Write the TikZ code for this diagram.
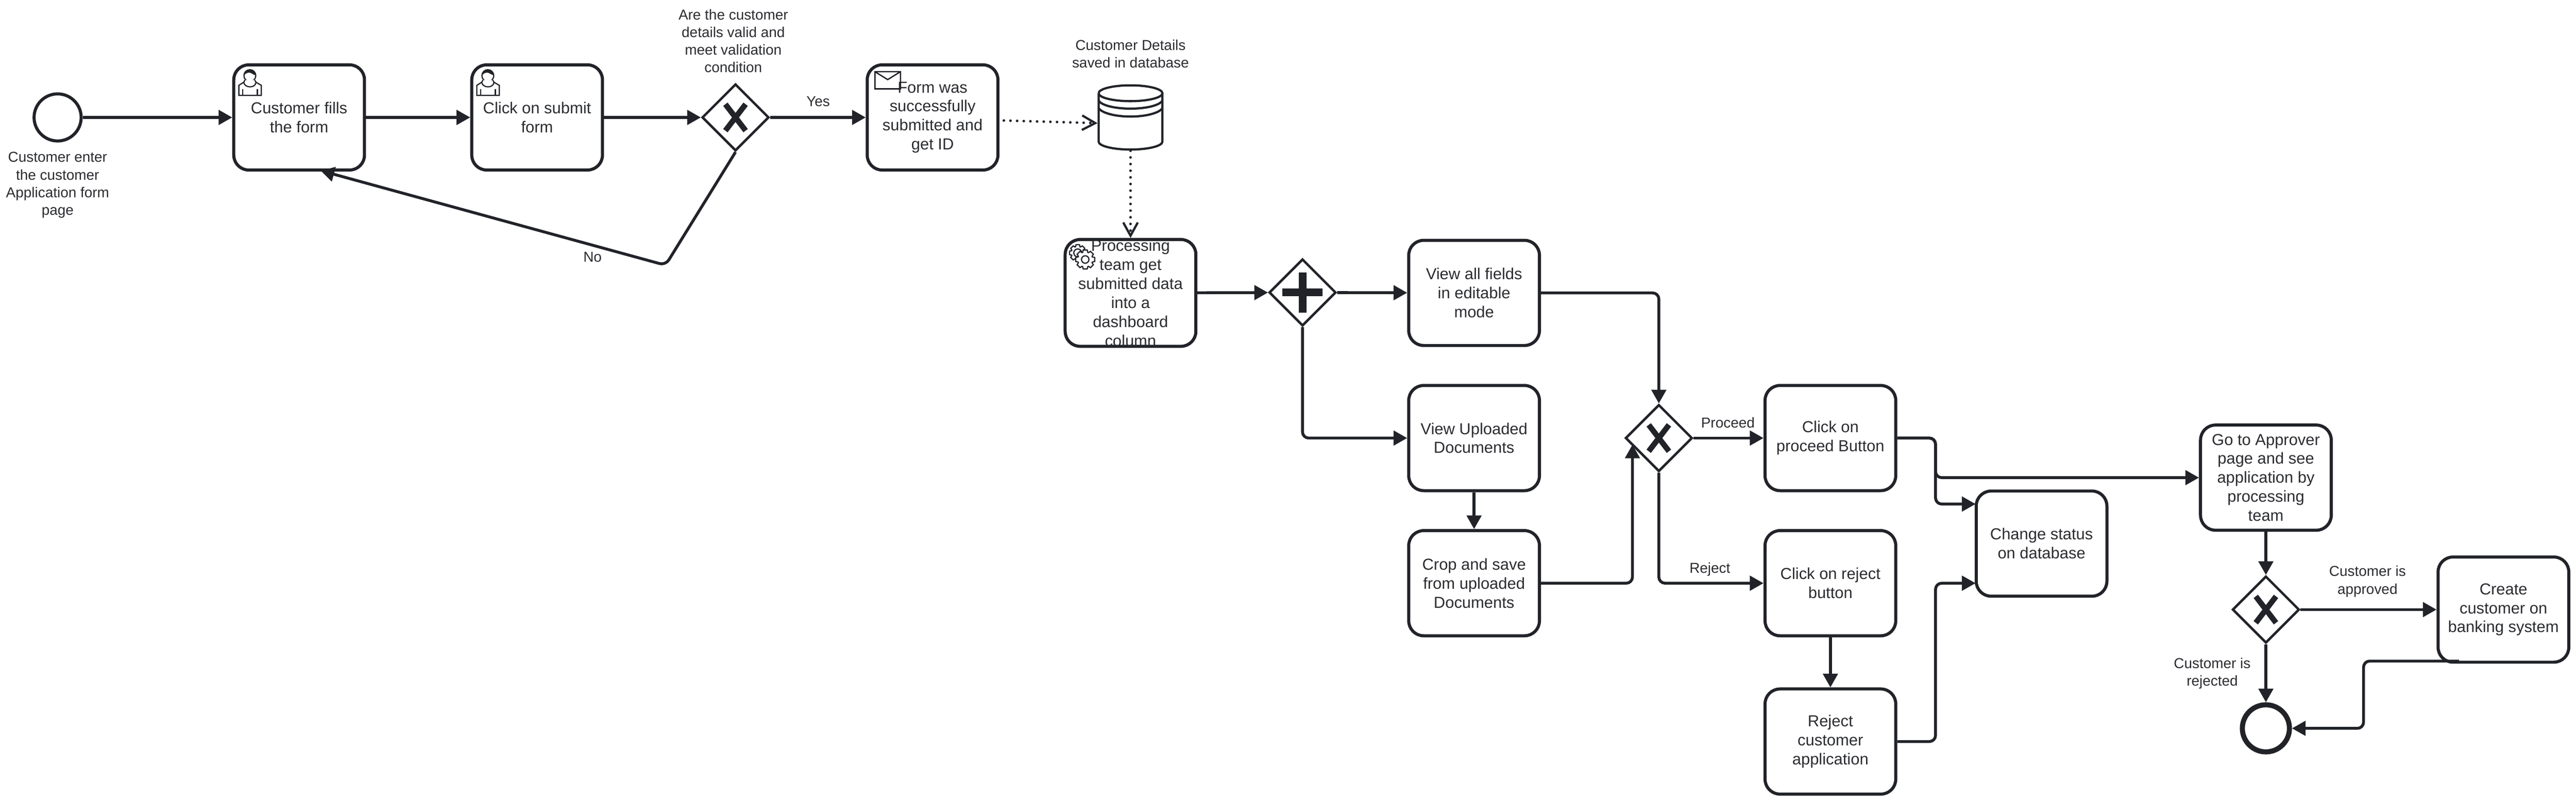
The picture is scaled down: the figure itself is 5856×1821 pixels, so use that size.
\documentclass[tikz,border=0pt]{standalone}
\usepackage{fontspec}
\setmainfont{Liberation Sans}
\usetikzlibrary{arrows.meta,shapes.geometric,calc}

\definecolor{bpmnline}{HTML}{212329}
\definecolor{bpmntext}{HTML}{2B2C30}

\tikzset{
	task/.style={draw=bpmnline,line width=0.07cm,rounded corners=0.34cm,minimum width=2.97cm,minimum height=2.39cm,inner sep=0pt,align=center,text=bpmntext,font=\fontsize{10.3}{12.3}\selectfont},
	gateway/.style={draw=bpmnline,line width=0.055cm,diamond,aspect=1,minimum width=1.52cm,minimum height=1.52cm,inner sep=0pt},
	lbl/.style={align=center,inner sep=0pt,text=bpmntext,font=\fontsize{9.3}{11.4}\selectfont},
	flow/.style={draw=bpmnline,line width=0.065cm,rounded corners=0.14cm,-{Triangle[length=0.31cm,width=0.33cm]}},
	assoc/.style={draw=bpmnline,line width=0.06cm,line cap=round,dash pattern=on 0pt off 4.3pt,-{Straight Barb[length=0.3cm,width=0.33cm,line width=0.05cm]}},
	iconline/.style={draw=bpmnline,line width=0.027cm},
}

\newcommand{\crossmark}[2]{
	\draw[bpmnline,line width=0.125cm] (#1-23,#2-30) -- (#1+23,#2+30) (#1+23,#2-30) -- (#1-23,#2+30);
}
\newcommand{\usericon}[2]{
	\begin{scope}[shift={(#1,#2)}]
		\draw[iconline] (0,0) circle[radius=13.5];
		\fill[bpmnline] (-13.5,-1) .. controls (-8,-6) and (-5,-7) .. (-2,-7) .. controls (4,-7) and (8,-1) .. (13.5,-1) arc[start angle=0,end angle=-180,radius=13.5] -- cycle;
		\draw[iconline,fill=white] (-11,10) -- (-14,15) -- (-25,22) -- (-25,45) -- (26,45) -- (26,22) -- (14,15) -- (11,10);
		\draw[iconline] (-14,15) .. controls (-12,29) and (13,29) .. (14,15);
		\draw[iconline] (-16,31) -- (-16,45) (17,31) -- (17,45);
	\end{scope}
}
\newcommand{\gearicon}[4]{
	\begin{scope}[shift={(#1,#2)}]
		\draw[iconline,fill=white] (-20:#3*.78) \foreach \a in {0,45,...,315} { -- (\a-20:#3*.78) -- (\a-12:#3) -- (\a+12:#3) -- (\a+20:#3*.78)} -- cycle;
		\draw[iconline] (0,0) circle[radius=#4];
	\end{scope}
}

\begin{document}
\begin{tikzpicture}[x=0.01cm,y=-0.01cm]
		\useasboundingbox (0,0) rectangle (5856,1821);

		% Draw events.
		\node[draw=bpmnline,line width=0.07cm,circle,minimum size=1.07cm,inner sep=0pt] (startev) at (131,267) {};
		\node[draw=bpmnline,line width=0.115cm,circle,minimum size=1.07cm,inner sep=0pt] (endev) at (5151,1656) {};

		% Draw tasks.
		\node[task] (fill) at (680,267) {Customer fills\\the form};
		\node[task] (submit) at (1221,267) {Click on submit\\form};
		\node[task] (form) at (2120,267) {Form was\\successfully\\submitted and\\get ID};
		\node[task] (processing) at (2570,666) {Processing\\team get\\submitted data\\into a\\dashboard\\column};
		\node[task] (viewall) at (3351,666) {View all fields\\in editable\\mode};
		\node[task] (viewdocs) at (3351,996) {View Uploaded\\Documents};
		\node[task] (crop) at (3351,1326) {Crop and save\\from uploaded\\Documents};
		\node[task] (proceed) at (4161,996) {Click on\\proceed Button};
		\node[task] (reject) at (4161,1326) {Click on reject\\button};
		\node[task] (rejectapp) at (4161,1686) {Reject\\customer\\application};
		\node[task] (change) at (4641,1236) {Change status\\on database};
		\node[task] (approver) at (5151,1086) {Go to Approver\\page and see\\application by\\processing\\team};
		\node[task] (create) at (5691,1386) {Create\\customer on\\banking system};

		% Draw gateways.
		\node[gateway] (gwvalid) at (1672,267) {};
		\node[gateway] (gwsplit) at (2961,665) {};
		\node[gateway] (gwproceed) at (3771,996) {};
		\node[gateway] (gwapprove) at (5151,1386) {};
		\crossmark{1672}{267}
		\crossmark{3771}{996}
		\crossmark{5151}{1386}
		\draw[bpmnline,line width=0.18cm] (2961,619) -- (2961,711) (2915,665) -- (3007,665);

		% Draw database.
		\node[minimum width=1.5cm,minimum height=1.5cm,inner sep=0pt] (db) at (2570,267) {};
		\draw[bpmnline,line width=0.05cm] (2497.5,212) arc[start angle=180,end angle=540,x radius=72.5,y radius=18];
		\draw[bpmnline,line width=0.05cm] (2497.5,212) -- (2497.5,322) .. controls (2497.5,332) and (2530,340) .. (2570,340) .. controls (2610,340) and (2642.5,332) .. (2642.5,322) -- (2642.5,212);
		\draw[bpmnline,line width=0.05cm] (2497.5,229) .. controls (2505,240) and (2535,247) .. (2570,247) .. controls (2605,247) and (2635,240) .. (2642.5,229);
		\draw[bpmnline,line width=0.05cm] (2497.5,246) .. controls (2505,257) and (2535,265) .. (2570,265) .. controls (2605,265) and (2635,257) .. (2642.5,246);

		% Draw icons.
		\usericon{568}{172}
		\usericon{1109}{172}
		\draw[iconline,line width=0.03cm] (1989,163) rectangle (2047,202) (1989,163) -- (2018,181) -- (2047,163);
		\gearicon{2450}{575}{19}{9}
		\gearicon{2467}{590}{22}{8.5}

		% Draw connectors.
		\coordinate (nobend) at (1513,603);
		\coordinate (fillin) at (729,388);
		\coordinate (formout) at (2282,274);
		\coordinate (dbin) at (2495,280);
		\coordinate (gwin) at (3711,1011);
		\coordinate (bus) at (4400,1086);
		\coordinate (busreject) at (4400,1326);
		\coordinate (changetop) at (4491,1146);
		\coordinate (changelow) at (4491,1326);
		\coordinate (createout) at (5590,1503);
		\coordinate (endbend) at (5373,1656);
		\draw[flow] (startev) -- (fill);
		\draw[flow] (fill) -- (submit);
		\draw[flow] (submit) -- (gwvalid);
		\draw[flow] (gwvalid) -- (form);
		\draw[flow] (gwvalid.south) -- (nobend) -- (fillin);
		\draw[assoc] (formout) -- (dbin);
		\draw[assoc] (db.south) -- (processing.north);
		\draw[flow] (processing) -- (gwsplit);
		\draw[flow] (gwsplit) -- (viewall);
		\draw[flow] (gwsplit.south) |- (viewdocs.west);
		\draw[flow] (viewdocs) -- (crop);
		\draw[flow] (viewall.east) -| (gwproceed.north);
		\draw[flow] (crop.east) -| (gwin);
		\draw[flow] (gwproceed) -- (proceed);
		\draw[flow] (gwproceed.south) |- (reject.west);
		\draw[flow] (reject) -- (rejectapp);
		\draw[flow] (proceed.east) -| (bus) -- (approver.west);
		\draw[flow] (proceed.east) -| (bus) |- (changetop);
		\draw[flow] (rejectapp.east) -| (busreject) -- (changelow);
		\draw[flow] (approver) -- (gwapprove);
		\draw[flow] (gwapprove) -- (create);
		\draw[flow] (gwapprove) -- (endev);
		\draw[flow] (createout) -| (endbend) -- (endev.east);

		% Draw labels.
		\node[lbl] (startlabel) at (131,421) {Customer enter\\the customer\\Application form\\page};
		\node[lbl] (validlabel) at (1667,93) {Are the customer\\details valid and\\meet validation\\condition};
		\node[lbl] (dblabel) at (2570,122) {Customer Details\\saved in database};
		\node[lbl] (yeslabel) at (1860,231) {Yes};
		\node[lbl] (nolabel) at (1347,585) {No};
		\node[lbl] (proceedlabel) at (3928,961) {Proceed};
		\node[lbl] (rejectlabel) at (3887,1294) {Reject};
		\node[lbl] (approvedlabel) at (5382,1322) {Customer is\\approved};
		\node[lbl] (rejectedlabel) at (5029,1531) {Customer is\\rejected};
	\end{tikzpicture}
\end{document}
